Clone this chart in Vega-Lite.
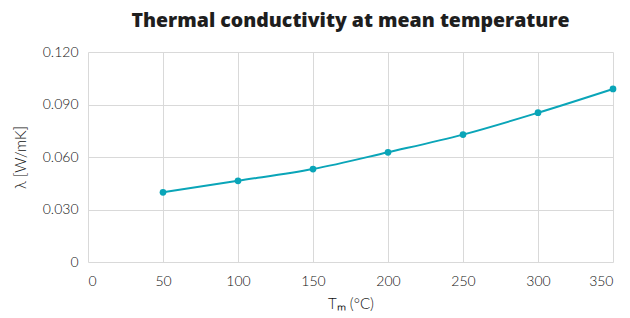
{
  "$schema": "https://vega.github.io/schema/vega-lite/v6.json",
  "width": 525,
  "height": 210,
  "autosize": {"type": "none"},
  "padding": {"left": 88, "top": 52, "right": 17, "bottom": 56},
  "background": "white",
  "title": {
    "text": "Thermal conductivity at mean temperature",
    "font": "Open Sans",
    "fontSize": 19.5,
    "fontWeight": 800,
    "color": "#1e1e1e",
    "anchor": "middle",
    "offset": 14
  },
  "data": {
    "values": [
      {"t": 50, "k": 0.0398},
      {"t": 100, "k": 0.0464},
      {"t": 150, "k": 0.0531},
      {"t": 200, "k": 0.0627},
      {"t": 250, "k": 0.0728},
      {"t": 300, "k": 0.0853},
      {"t": 350, "k": 0.0989}
    ]
  },
  "config": {
    "view": {"stroke": null},
    "axis": {
      "labelFont": "Lato",
      "titleFont": "Lato",
      "labelFontSize": 14,
      "labelFontWeight": 300,
      "titleFontSize": 15,
      "titleFontWeight": 300,
      "labelColor": "#111111",
      "titleColor": "#111111",
      "gridColor": "#d9d9d9",
      "domainColor": "#d9d9d9",
      "ticks": false
    }
  },
  "layer": [
    {
      "mark": {"type": "line", "interpolate": "monotone", "color": "#0aa5b8", "strokeWidth": 2},
      "encoding": {
        "x": {"field": "t", "type": "quantitative"},
        "y": {"field": "k", "type": "quantitative"}
      }
    },
    {
      "mark": {"type": "point", "filled": true, "opacity": 1, "color": "#0aa5b8", "size": 45},
      "encoding": {
        "x": {
          "field": "t",
          "type": "quantitative",
          "scale": {"domain": [0, 350], "nice": false},
          "axis": {"values": [0, 50, 100, 150, 200, 250, 300, 350], "title": "Tₘ (°C)", "labelPadding": 12, "titlePadding": 8, "domain": false}
        },
        "y": {
          "field": "k",
          "type": "quantitative",
          "scale": {"domain": [0, 0.12], "nice": false},
          "axis": {"values": [0, 0.03, 0.06, 0.09, 0.12], "labelExpr": "datum.value == 0 ? '0' : format(datum.value, '.3f')", "title": "λ [W/mK]", "labelPadding": 10, "titlePadding": 14, "domain": false}
        }
      }
    }
  ]
}
